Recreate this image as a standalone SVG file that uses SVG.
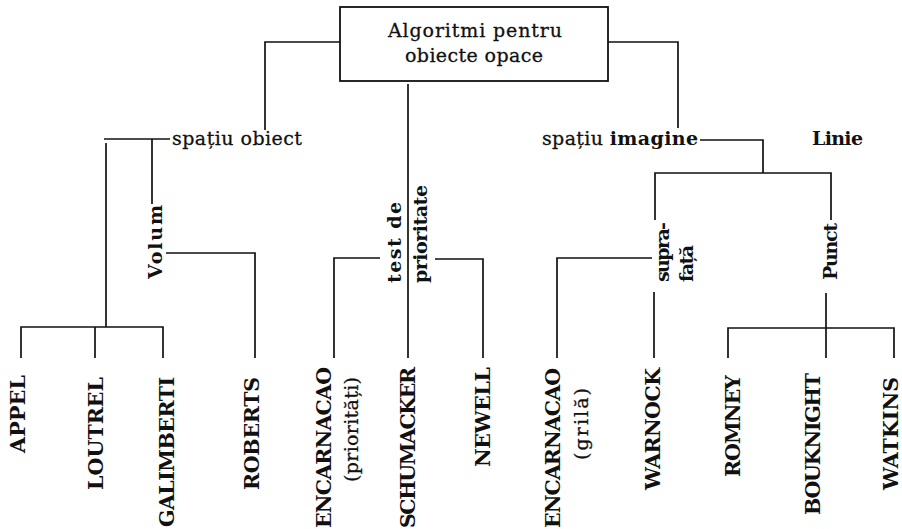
<svg xmlns="http://www.w3.org/2000/svg" width="902" height="529" viewBox="0 0 902 529">
<style>
text { font-family: "DejaVu Serif", "Liberation Serif", serif; fill: #111; }
.lbl { font-size: 19px; stroke: #111; stroke-width: 0.3; }
.rot { font-size: 19px; font-weight: bold; }
.b { font-weight: bold; stroke-width: 0; }
.leaf { font-size: 20.5px; font-weight: bold; }
.sub { font-size: 19px; stroke: #111; stroke-width: 0.3; }
.conn path { fill: none; stroke: #111; stroke-width: 1.7; }
.box { fill: #fff; stroke: #111; stroke-width: 1.8; }
</style>
<rect width="902" height="529" fill="#fff"/>
<g class="conn" id="connectors">
<path d="M340,42 H265 V130"/>
<path d="M170,139 H104"/>
<path d="M106,143 V327"/>
<path d="M152,139 V204"/>
<path d="M21,358 V327 H163 V358"/>
<path d="M95,327 V358"/>
<path d="M166,253 H255 V358"/>
<path d="M408,84 V358"/>
<path d="M380,258 H334 V358"/>
<path d="M435,259 H483 V358"/>
<path d="M608,42 H678 V128"/>
<path d="M700,140 H763 V173"/>
<path d="M655,220 V173 H831 V220"/>
<path d="M652,258 H557 V358"/>
<path d="M654,292 V358"/>
<path d="M826,293 V358"/>
<path d="M728,358 V328 H894 V358"/>
</g>
<g id="root">
<rect class="box" x="340" y="7" width="268" height="74"/>
<text class="lbl" x="388" y="37" textLength="174" lengthAdjust="spacing">Algoritmi pentru</text>
<text class="lbl" x="405" y="62" textLength="138" lengthAdjust="spacing">obiecte opace</text>
</g>
<g id="spatiu-obiect">
<text class="lbl" x="172" y="145" textLength="130" lengthAdjust="spacing">spațiu obiect</text>
</g>
<g id="volum">
<text class="rot" transform="translate(162,279) rotate(-90)" textLength="74" lengthAdjust="spacing">Volum</text>
</g>
<g id="test-prioritate">
<text class="rot" transform="translate(401,283) rotate(-90)" textLength="81" lengthAdjust="spacing">test de</text>
<text class="rot" transform="translate(427,283) rotate(-90)" textLength="98" lengthAdjust="spacing">prioritate</text>
</g>
<g id="spatiu-imagine">
<text class="lbl" x="542" y="145" font-size="18" textLength="156" lengthAdjust="spacing">spațiu <tspan class="b">imagine</tspan></text>
</g>
<g id="linie">
<text class="rot" font-size="18" x="812" y="145" textLength="51" lengthAdjust="spacing">Linie</text>
</g>
<g id="suprafata">
<text class="rot" font-size="18" transform="translate(669,282) rotate(-90)" textLength="60" lengthAdjust="spacing">supra-</text>
<text class="rot" font-size="18" transform="translate(693,282) rotate(-90)" textLength="37" lengthAdjust="spacing">față</text>
</g>
<g id="punct">
<text class="rot" font-size="18" transform="translate(837,280) rotate(-90)" textLength="57" lengthAdjust="spacing">Punct</text>
</g>
<g id="appel"><text class="leaf" transform="translate(25,453) rotate(-90)" textLength="78" lengthAdjust="spacing">APPEL</text></g>
<g id="loutrel"><text class="leaf" transform="translate(103,490) rotate(-90)" textLength="113" lengthAdjust="spacing">LOUTREL</text></g>
<g id="galimberti"><text class="leaf" transform="translate(174,527) rotate(-90)" textLength="150" lengthAdjust="spacing">GALIMBERTI</text></g>
<g id="roberts"><text class="leaf" transform="translate(259,490) rotate(-90)" textLength="113" lengthAdjust="spacing">ROBERTS</text></g>
<g id="encarnacao-prioritati">
<text class="leaf" transform="translate(331,528) rotate(-90)" textLength="161" lengthAdjust="spacing">ENCARNACAO</text>
<text class="sub" transform="translate(358,482) rotate(-90)" textLength="105" lengthAdjust="spacing">(priorități)</text>
</g>
<g id="schumacker"><text class="leaf" transform="translate(415,528) rotate(-90)" textLength="161" lengthAdjust="spacing">SCHUMACKER</text></g>
<g id="newell"><text class="leaf" transform="translate(490,467) rotate(-90)" textLength="100" lengthAdjust="spacing">NEWELL</text></g>
<g id="encarnacao-grila">
<text class="leaf" transform="translate(560,528) rotate(-90)" textLength="160" lengthAdjust="spacing">ENCARNACAO</text>
<text class="sub" transform="translate(588,460) rotate(-90)" textLength="72" lengthAdjust="spacing">(grilă)</text>
</g>
<g id="warnock"><text class="leaf" transform="translate(660,490) rotate(-90)" textLength="122" lengthAdjust="spacing">WARNOCK</text></g>
<g id="romney"><text class="leaf" transform="translate(740,477) rotate(-90)" textLength="102" lengthAdjust="spacing">ROMNEY</text></g>
<g id="bouknight"><text class="leaf" transform="translate(820,515) rotate(-90)" textLength="142" lengthAdjust="spacing">BOUKNIGHT</text></g>
<g id="watkins"><text class="leaf" transform="translate(898,490) rotate(-90)" textLength="113" lengthAdjust="spacing">WATKINS</text></g>
</svg>
